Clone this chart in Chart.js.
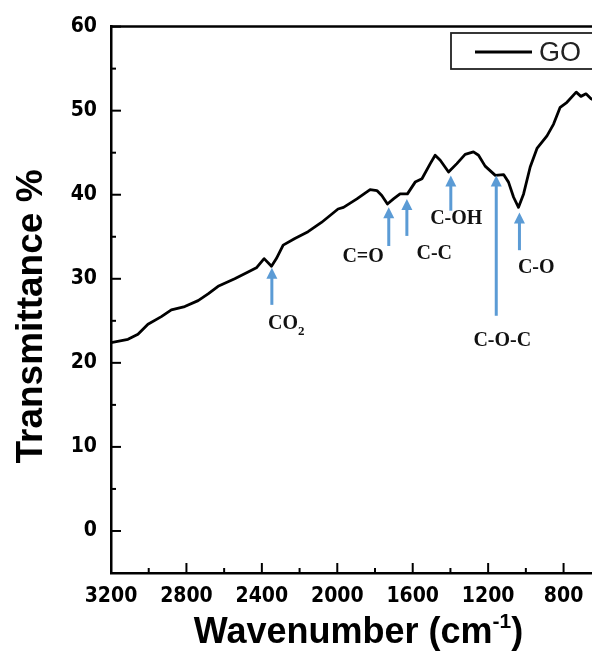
<!DOCTYPE html>
<html><head><meta charset="utf-8">
<script src="https://cdn.jsdelivr.net/npm/chart.js@4/dist/chart.umd.min.js"></script>
<style>
html,body{margin:0;padding:0;overflow:hidden;background:#fff;width:592px;height:652px}
#wrap{width:700px;height:652px}
</style>
</head><body><div id="wrap"><canvas id="c" width="700" height="652"></canvas></div>
<script>
// FTIR spectrum of GO
const wavenumbers = [3200,3110,3057,3004,2933,2880,2809,2738,2685,2632,2544,2473,2429,2388,2349,2323,2287,2225,2155,2084,1996,1967,1896,1826,1790,1764,1734,1702,1667,1628,1587,1551,1507,1481,1454,1410,1366,1322,1278,1251,1216,1162,1118,1092,1065,1039,1012,977,941,888,853,818,782,733,708,681,653,620,590];
const transmittance = [22.4,22.8,23.4,24.6,25.5,26.3,26.7,27.4,28.2,29.1,30.0,30.8,31.3,32.4,31.5,32.4,34.0,34.8,35.6,36.7,38.3,38.5,39.5,40.6,40.5,39.9,38.9,39.5,40.1,40.1,41.5,41.9,43.7,44.7,44.1,42.7,43.7,44.8,45.1,44.7,43.4,42.3,42.4,41.5,39.7,38.5,40.1,43.3,45.5,47.0,48.4,50.4,51.0,52.2,51.7,52.0,51.4,51.0,50.6];
const xTicks = [3200,2800,2400,2000,1600,1200,800,400];
const xMinorTicks = [3000,2600,2200,1800,1400,1000,600];
const yTicks = [0,10,20,30,40,50,60];
const yMinorTicks = [-5,5,15,25,35,45,55];
const seriesName = 'GO';
const xTitle = 'Wavenumber (cm';
const xTitleSup = '-1';
const yTitle = 'Transmittance %';

// peak annotations
const peakLabels = ['CO','C=O','C-C','C-OH','C-O-C','C-O'];
const peakLabelSub = ['2','','','','',''];
const peakWavenumbers = [2347,1727,1631,1398,1157,1034];
const arrowTips = [31.3,38.5,39.5,42.3,42.3,37.9];
const arrowTails = [26.9,33.9,35.1,38.1,25.6,33.4];
const labelWavenumbers = [2271,1863,1486,1369,1125,945];
const labelValues = [24.6,32.6,33.0,37.1,22.6,31.3];

const tickFont = '"DejaVu Sans Condensed","Liberation Sans Narrow","DejaVu Sans",sans-serif';
const sansFont = '"Liberation Sans",Arial,sans-serif';
const serifFont = '"Liberation Serif","Times New Roman",serif';
const arrowColor = '#5b9bd5';

const decor = {
  id:'decor',
  afterDraw(chart){
    const ctx = chart.ctx, ca = chart.chartArea;
    const xs = chart.scales.x, ys = chart.scales.y;
    ctx.save();
    // top frame line
    ctx.strokeStyle='#000'; ctx.lineWidth=2.5;
    ctx.beginPath(); ctx.moveTo(ca.left-1, ca.top); ctx.lineTo(ca.right, ca.top); ctx.stroke();
    ctx.beginPath(); ctx.moveTo(ca.right, ca.top); ctx.lineTo(ca.right, ca.bottom); ctx.stroke();
    // inward ticks
    ctx.lineWidth=2;
    xTicks.forEach(v=>{const p=xs.getPixelForValue(v); ctx.beginPath(); ctx.moveTo(p,ca.bottom); ctx.lineTo(p,ca.bottom-10); ctx.stroke();});
    xMinorTicks.forEach(v=>{const p=xs.getPixelForValue(v); ctx.beginPath(); ctx.moveTo(p,ca.bottom); ctx.lineTo(p,ca.bottom-5); ctx.stroke();});
    yTicks.forEach(v=>{const p=ys.getPixelForValue(v); ctx.beginPath(); ctx.moveTo(ca.left,p); ctx.lineTo(ca.left+10,p); ctx.stroke();});
    yMinorTicks.forEach(v=>{const p=ys.getPixelForValue(v); ctx.beginPath(); ctx.moveTo(ca.left,p); ctx.lineTo(ca.left+5,p); ctx.stroke();});
    // arrows
    ctx.strokeStyle=arrowColor; ctx.fillStyle=arrowColor; ctx.lineWidth=3;
    peakWavenumbers.forEach((w,i)=>{
      const x=xs.getPixelForValue(w), yt=ys.getPixelForValue(arrowTips[i]), yb=ys.getPixelForValue(arrowTails[i]);
      ctx.beginPath(); ctx.moveTo(x,yb); ctx.lineTo(x,yt+8); ctx.stroke();
      ctx.beginPath(); ctx.moveTo(x,yt); ctx.lineTo(x-5.5,yt+11); ctx.lineTo(x+5.5,yt+11); ctx.closePath(); ctx.fill();
    });
    // labels
    ctx.fillStyle='#111'; ctx.textBaseline='middle';
    peakLabels.forEach((t,i)=>{
      const x=xs.getPixelForValue(labelWavenumbers[i]), y=ys.getPixelForValue(labelValues[i]);
      ctx.font='bold 20px '+serifFont;
      const w1=ctx.measureText(t).width;
      let w2=0;
      if(peakLabelSub[i]){ctx.font='bold 13px '+serifFont; w2=ctx.measureText(peakLabelSub[i]).width;}
      const x0=x-(w1+w2)/2;
      ctx.font='bold 20px '+serifFont; ctx.textAlign='left';
      ctx.fillText(t,x0,y);
      if(peakLabelSub[i]){ctx.font='bold 13px '+serifFont; ctx.fillText(peakLabelSub[i],x0+w1,y+7);}
    });
    // legend
    const lx=ca.left+340, ly=33;
    ctx.strokeStyle='#222'; ctx.lineWidth=1.8;
    ctx.strokeRect(lx,ly,170,36);
    ctx.strokeStyle='#000'; ctx.lineWidth=3;
    ctx.beginPath(); ctx.moveTo(lx+24,ly+19); ctx.lineTo(lx+81,ly+19); ctx.stroke();
    ctx.fillStyle='#222'; ctx.font='27px '+sansFont; ctx.textAlign='left'; ctx.textBaseline='alphabetic';
    ctx.fillText(seriesName,lx+88,ly+28);
    // x title
    ctx.fillStyle='#000';
    ctx.font='bold 36px '+sansFont;
    const wA=ctx.measureText(xTitle).width;
    ctx.font='bold 21px '+sansFont;
    const wS=ctx.measureText(xTitleSup).width;
    ctx.font='bold 36px '+sansFont;
    const wC=ctx.measureText(')').width;
    const tot=wA+wS+wC, cx=358.5, by=643;
    let x0=cx-tot/2;
    ctx.fillText(xTitle,x0,by);
    ctx.font='bold 21px '+sansFont; ctx.fillText(xTitleSup,x0+wA,by-15);
    ctx.font='bold 36px '+sansFont; ctx.fillText(')',x0+wA+wS,by);
    // y title
    ctx.translate(42,316.5); ctx.rotate(-Math.PI/2);
    ctx.font='bold 37px '+sansFont; ctx.textAlign='center';
    ctx.fillText(yTitle,0,0);
    ctx.restore();
  }
};

new Chart(document.getElementById('c').getContext('2d'),{
  type:'line',
  data:{datasets:[{label:seriesName,data:wavenumbers.map((x,i)=>({x:x,y:transmittance[i]})),
    borderColor:'#000',borderWidth:2.8,pointRadius:0,tension:0,fill:false,borderJoinStyle:'round'}]},
  options:{
    responsive:false,animation:false,devicePixelRatio:1,
    layout:{padding:{left:0,top:26,right:61,bottom:0}},
    plugins:{legend:{display:false},tooltip:{enabled:false}},
    scales:{
      x:{type:'linear',reverse:true,min:400,max:3200,
        afterFit(s){s.height=79;},
        afterBuildTicks(s){s.ticks=xTicks.map(v=>({value:v}));},
        grid:{display:false,drawTicks:false},
        border:{display:true,color:'#000',width:2.5},
        ticks:{color:'#000',font:{family:tickFont,size:21,weight:'bold'},padding:11,maxRotation:0,autoSkip:false,callback:v=>String(v)}},
      y:{min:-5,max:60,
        afterFit(s){s.width=111;},
        afterBuildTicks(s){s.ticks=yTicks.map(v=>({value:v}));},
        grid:{display:false,drawTicks:false},
        border:{display:true,color:'#000',width:2.5},
        ticks:{color:'#000',font:{family:tickFont,size:21,weight:'bold'},padding:14,autoSkip:false,callback:v=>String(v)}}
    }
  },
  plugins:[decor]
});
</script></body></html>
